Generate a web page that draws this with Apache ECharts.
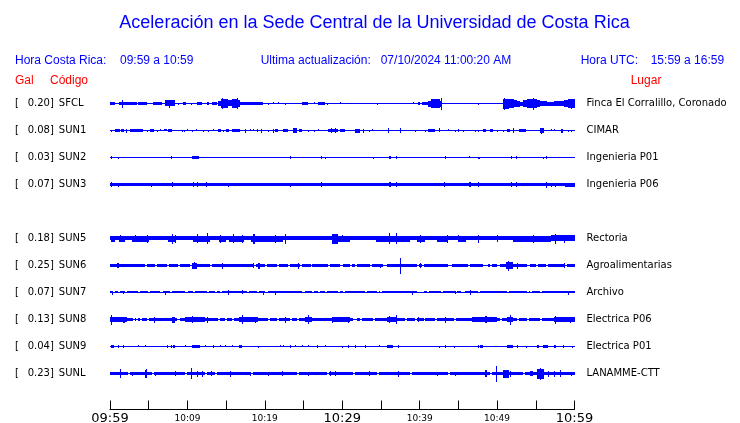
<!DOCTYPE html>
<html><head><meta charset="utf-8">
<script src="https://cdn.jsdelivr.net/npm/echarts@6/dist/echarts.min.js"></script>
<style>html,body{margin:0;padding:0;background:#fff}#c{width:740px;height:423px}</style>
</head><body><div id="c"></div>
<script>
// ---- data ----
const timeTicks = ['09:59','10:09','10:19','10:29','10:39','10:49','10:59']; // every 10 min
const codes = ['SFCL','SUN1','SUN2','SUN3','SUN4','SUN5','SUN6','SUN7','SUN8','SUN9','SUNL'];
const galPeaks = ['0.20','0.08','0.03','0.07',null,'0.18','0.25','0.07','0.13','0.04','0.23'];
const places = ['Finca El Corralillo, Coronado','CIMAR','Ingenieria P01','Ingenieria P06','','Rectoria','Agroalimentarias','Archivo','Electrica P06','Electrica P01','LANAMME-CTT'];
// continuous background level of each trace (relative amplitude)
const traceBase = [0.5,0.5,0.5,1.5,null,2.2,1.3,1.2,1.7,0.5,1.3];
// bursts / spikes: [start minute, end minute, half amplitude]
const sfclBursts = [[0,0.7,1.6],[1.2,3.5,1.6],[1.5,1.6,4],[3.6,4.8,1.4],[5.6,6.7,1.6],[7.1,8.4,3.2],[7.6,7.7,4],[8.8,8.8,1],[9.4,9.8,1.5],[10.5,10.5,1],[11.2,11.9,1.5],[12.5,12.8,1.3],[13.2,13.8,1.5],
 [13.9,14.3,2.7],[14.3,15.2,4.5],[14.5,14.6,5.5],[15.2,15.8,3.2],[15.8,16.5,4.5],[16.4,16.5,5.7],[16.5,16.8,3.3],[16.8,19.7,1.6],[20.4,20.4,1],[21.0,21.0,1.2],[21.7,21.8,1.2],[22.6,22.6,1],[24.8,25.6,1.5],[26.4,26.5,1.2],[26.9,27.8,1.5],[28.0,28.0,1],[29.7,29.8,1.2],
 [34.5,34.5,0.9],[39.2,39.3,1.2],[39.8,40.1,1.4],[40.3,41.1,1.7],[41.1,41.5,3],[41.5,42.6,4.3],[42.7,42.8,6],[42.6,42.9,3],[47.5,47.5,1],
 [50.8,51.5,5],[50.9,51.0,6],[51.5,52.2,4.5],[52.2,52.6,3.5],[52.6,53.0,3],[53.0,53.4,2],[53.4,53.9,3.5],[53.9,55.2,4.5],[54.7,54.8,6],[55.2,55.6,3.5],[55.6,56.5,2.5],[56.5,57.3,2],[57.3,58.6,2.4],[58.6,59.2,3.5],[59.2,60,4.3],[59.5,59.6,5]];
const sun1Bursts = [[0.1,0.1,1],[0.6,1.3,1.3],[1.4,1.8,1.3],[2.1,2.1,2],[2.6,3.6,1.3],[3.6,4.3,1.3],[4.8,4.8,1],[5.2,5.7,1.3],[6.1,6.1,1],[6.5,6.5,1.2],[7.0,7.4,1.2],[7.5,8.0,1.3],[9.3,9.3,1],[9.6,9.6,1],[10.0,10.0,1.2],[10.6,10.6,1],[11.1,11.1,1.2],[12.0,12.0,1],[12.7,12.7,1],[13.3,13.3,1.2],[14.0,14.4,1.3],[14.6,14.6,1],[15.0,15.4,1.3],[15.8,16.6,1.5],[16.7,16.7,1.3],[17.5,17.5,2],[18.1,18.1,1.2],[18.5,18.5,1.2],[19.0,19.1,1.3],[19.5,19.5,1.8],[20.4,20.4,1],[21.1,21.1,1.8],[21.3,21.7,1.3],[22.4,23.0,1.3],[23.7,24.2,2.3],[24.4,24.8,1.3],[25.6,25.6,1],[26.3,26.3,1],[26.9,26.9,1.2],[28.1,29.5,1.7],[28.5,28.6,2.3],[29.0,29.1,2.3],[29.7,30.4,1.3],
 [31.7,32.3,2],[32.7,32.8,2],[33.4,33.4,1],[33.9,34.0,1.2],[35.9,36.0,2.3],[37.5,37.5,2.3],[39.4,39.4,1],[40.7,40.7,1],[41.1,42.0,1.7],[42.5,42.6,2.2],[43.6,43.6,1.2],[44.5,44.5,1],[44.9,45.1,1.3],[45.6,45.6,1],[47.1,47.1,1],[47.5,47.5,1],[48.2,48.6,1.3],[49.1,49.5,1.3],[50.0,50.0,1],[50.7,50.7,1],[51.3,51.7,1.3],[52.0,52.1,2.3],[52.8,53.7,1.7],[55.5,56.1,2.5],[55.7,55.8,3],[56.9,56.9,1.2],[57.3,57.3,1.2],[58.2,58.5,2],[59.1,59.1,1],[59.6,59.6,1]];
const sun2Bursts = [[0.1,0.3,1.5],[1.0,1.0,1],[7.9,8.0,1.5],[10.6,11.5,1.5],[23.2,23.2,1.7],[27.2,27.4,1.5],[27.8,27.8,1],[34.0,34.0,1],[36.1,36.3,1.7],[36.9,36.9,1.5],[43.3,43.3,1.5],[46.4,46.4,1.2],[47.5,47.5,1],[47.7,47.7,1],[51.8,51.9,1.5],[52.5,52.5,1.3],[55.9,55.9,1],[56.3,56.5,1.5]];
const sun3Bursts = [[0.1,0.2,2.5],[1.0,1.0,2],[5.3,5.3,2],[8.0,8.1,2.7],[10.7,10.7,2.3],[11.2,11.2,2.3],[12.4,12.4,2.3],[15.3,15.3,1.8],[23.2,23.2,2],[27.3,27.3,2.3],[36.1,36.3,2.7],[36.9,36.9,2.3],[43.2,43.2,2.3],[46.4,46.6,2.7],[47.5,47.5,2.3],[51.8,51.9,2.3],[52.5,52.6,2.7],[56.3,56.3,3],[56.9,56.9,2],[57.5,57.5,2],[58.8,60,1.8]];
const sun5Bursts = [[0.1,0.6,2.8],[1.2,1.9,2.8],[2.8,5.0,2.8],[7.5,8.5,2.9],[10.7,12.9,2.9],[14.1,15.0,2.9],[15.4,17.3,2.9],[18.2,22.4,3],[29.1,31.0,2.9],[34.4,38.7,3],[39.6,40.7,2.8],[42.3,43.5,2.9],[45.0,46.0,2.8],[52.0,57.0,2.9],[57.0,60,3.2],
 [1.3,1.3,3.5],[3.2,3.2,3.3],[4.8,4.8,4],[8.0,8.0,5],[8.4,8.4,4],[11.2,11.2,4.5],[12.5,12.5,5.5],[14.2,14.2,4],[15.9,15.9,4.5],[17.1,17.1,4],[18.5,18.7,5],[21.3,21.3,4],[22.6,22.6,5],[28.7,29.4,5],[30.0,30.0,3.5],[36.1,36.1,5.5],[36.9,36.9,5.5],[40.1,40.1,4],[43.5,43.5,4],[44.9,44.9,3.5],[47.5,47.5,4],[50.0,50.0,3.5],[54.6,54.6,4],[57.5,57.5,5],[58.7,58.7,4]];
const sun6Bursts = [[0.9,0.9,2.3],[1.0,1.1,2.3],[10.6,11.2,3],[10.9,10.9,3.5],[14.5,14.5,3],[18.5,18.5,2.5],[19.1,19.4,3],[24.3,24.3,3],[34.9,34.9,2],[37.4,37.4,8],[40.1,40.1,2.5],[51.1,52.0,3.5],[51.4,51.5,5],[52.6,52.6,3],[58.7,58.7,2.5]];
const sun6Gaps = [[4.5,4.75],[5.8,6.05],[7.4,7.65],[8.8,9.05],[10.3,10.55],[12.9,13.2],[18.6,18.85],[20.0,20.3],[21.6,21.85],[23.0,23.25],[24.6,24.85],[25.9,26.15],[28.2,28.45],[29.7,30.1],[31.0,31.3],[31.7,31.95],[33.6,33.85],[35.3,35.8],[39.7,39.95],[40.3,40.55],[43.7,44.2],[46.3,46.55],[48.2,48.8],[49.1,49.35],[50.0,50.4],[53.9,54.3],[55.0,55.25],[56.3,56.55],[58.8,59.05]];
const sun7Bursts = [[0.3,0.3,1.8],[1.7,1.7,1.7],[7.1,7.1,1.8],[15.3,15.3,2.5],[17.1,17.1,2.2],[19.7,19.7,2],[21.3,21.3,1.8],[39.0,39.2,1.8],[44.5,44.5,1.7],[46.5,46.5,2.3],[59.1,59.1,2]];
const sun7Gaps = [[0.4,0.65],[1.0,1.25],[1.9,2.15],[3.6,3.85],[4.9,5.15],[6.5,6.9],[7.8,8.05],[9.7,10.1],[10.7,10.95],[12.5,12.75],[13.6,13.85],[14.2,14.45],[17.7,17.95],[19.0,19.25],[20.0,20.4],[24.8,25.2],[26.1,26.35],[26.9,27.15],[27.8,28.05],[29.5,29.75],[30.1,30.35],[33.0,33.25],[34.5,34.75],[34.9,35.15],[39.7,40.5],[41.0,41.25],[42.7,42.95],[44.6,44.85],[45.3,45.9],[47.5,47.75],[51.3,51.55],[53.9,54.15],[54.3,54.55],[55.6,55.85]];
const sun8Bursts = [[0,2.2,2.5],[9.7,12.3,2.5],[16.6,19.1,2.5],[25.2,26.1,2.5],[28.7,31.0,2.5],[35.8,37.1,2.5],[46.8,50.0,2.4],[51.3,52.1,2.6],[57.3,60,2.5],
 [0.1,0.1,5],[1.7,1.9,3],[5.7,5.7,3],[8.0,8.4,3],[10.6,10.7,3.5],[12.5,12.5,3],[17.1,17.1,4.5],[18.7,18.7,3],[22.6,22.6,3],[25.6,25.6,4.5],[28.7,28.7,3],[30.7,30.7,3],[36.1,36.1,3.5],[36.9,36.9,4.5],[39.8,39.8,2.5],[43.3,43.3,3],[48.5,48.7,3.5],[51.7,51.7,5],[57.5,57.5,4],[59.4,59.4,3]];
const sun8Gaps = [[3.0,3.2],[3.4,3.6],[3.9,4.1],[4.8,5.05],[8.7,9.1],[14.0,14.25],[14.9,15.15],[15.8,16.05],[20.4,20.65],[21.6,21.85],[23.3,23.55],[24.2,24.45],[31.4,31.9],[32.3,32.55],[34.0,34.25],[38.1,38.35],[39.4,39.65],[40.5,40.75],[42.0,42.25],[44.4,44.65],[50.4,50.65],[52.6,52.85],[53.9,54.15],[55.6,55.85]];
const sun9Bursts = [[0.1,0.5,1.5],[1.0,1.0,1.3],[1.7,1.7,1.3],[3.6,3.6,1.2],[4.5,4.5,1.2],[7.4,7.5,1.5],[7.9,8.0,1.5],[8.2,8.4,1.5],[9.7,9.7,1.2],[10.6,11.6,1.7],[12.3,12.3,1.2],[13.3,13.3,1.5],[14.2,14.2,1.2],[14.9,14.9,1.2],[15.8,15.8,1.2],[16.7,17.1,1.7],[19.1,19.1,1],[21.9,21.9,1.2],[22.4,22.4,1.2],[23.2,23.2,1.3],[23.9,23.9,1.2],[24.8,24.8,1.2],[25.6,25.6,1.2],[26.8,26.9,1.3],[27.8,27.8,1.2],[30.0,30.0,1],
 [30.8,30.8,1.7],[31.7,31.7,1.3],[33.0,33.0,1.3],[34.7,34.7,1.2],[35.8,36.5,1.5],[37.2,37.2,1.3],[42.5,42.5,1],[43.3,43.3,1.5],[44.4,44.4,1],[47.5,47.5,1.3],[47.8,48.2,1.3],[51.3,52.0,1.5],[52.6,52.6,1.3],[53.7,53.7,1],[55.2,55.4,1.3],[55.9,56.6,1.7],[57.3,57.3,1.3],[57.5,57.5,1.3],[58.5,58.5,1.3],[59.7,59.7,1]];
const sunlBursts = [[0,1.2,1.7],[1.3,1.3,4.5],[2.8,2.8,2],[4.5,4.8,4],[4.7,4.7,4.5],[5.8,5.8,2],[8.4,8.4,2.5],[10.4,10.5,5.5],[11.2,11.2,3],[11.9,11.9,3],[13.1,13.1,2.5],[15.5,15.5,3],[18.1,18.1,2],[20.4,20.4,2],[22.2,22.2,2.5],[25.6,25.6,2],[28.4,28.4,2.5],[29.1,29.1,2.5],
 [33.4,33.4,2.5],[37.2,37.3,3],[42.3,42.3,2],[44.6,44.6,2],[48.5,48.7,3.5],[49.9,49.9,8],[50.8,51.5,4],[51.7,51.7,3],[54.3,54.7,2.5],[55.2,56.0,5],[55.5,55.6,6],[56.6,56.6,3],[57.3,57.3,3],[58.1,58.1,3.5],[59.5,59.5,2]];
const sunlGaps = [[2.3,2.55],[5.4,5.65],[9.7,9.95],[12.3,12.55],[13.6,13.85],[18.1,18.5],[24.2,24.45],[28.0,28.25],[31.4,31.65],[34.5,34.75],[38.8,39.05],[43.7,43.95],[49.1,49.35],[53.4,53.65]];

// ---- assemble ----
const AMP_SCALE = 1 / 27;   // one amplitude unit as a fraction of a trace row
const BLUE = '#0000ff', RED = '#ff0000';
const traces = [
  [0, sfclBursts, []], [1, sun1Bursts, []], [2, sun2Bursts, []], [3, sun3Bursts, []],
  [5, sun5Bursts, []], [6, sun6Bursts, sun6Gaps], [7, sun7Bursts, sun7Gaps],
  [8, sun8Bursts, sun8Gaps], [9, sun9Bursts, []], [10, sunlBursts, sunlGaps]
];
const segData = [];
traces.forEach(([row, bursts, gaps]) => {
  const base = traceBase[row];
  segData.push([0, 60, row, 0.5]);
  if (base > 0.5) {
    let cur = 0;
    gaps.forEach(g => { segData.push([cur, g[0], row, base]); cur = g[1]; });
    segData.push([cur, 60, row, base]);
  }
  bursts.forEach(b => segData.push([b[0], b[1], row, b[2]]));
});

const chart = echarts.init(document.getElementById('c'), null, {renderer: 'canvas'});
const DV = 'DejaVu Sans', LS = 'Liberation Sans';
const txt = (text, x, y, size, color, align) => ({
  type: 'text', x: x, y: y,
  style: { text: text, font: size + 'px "' + LS + '"', fill: color, textAlign: align || 'left', textVerticalAlign: 'middle' }
});
chart.setOption({
  animation: false,
  backgroundColor: '#fff',
  graphic: [
    txt('Aceleración en la Sede Central de la Universidad de Costa Rica', 374.5, 23, 18, BLUE, 'center'),
    txt('Hora Costa Rica:', 15, 61, 12, BLUE),
    txt('09:59 a 10:59', 120, 61, 12, BLUE),
    txt('Ultima actualización:', 260.7, 61, 12, BLUE),
    txt('07/10/2024 11:00:20 AM', 380.7, 61, 12, BLUE),
    txt('Hora UTC:', 580.7, 61, 12, BLUE),
    txt('15:59 a 16:59', 650.7, 61, 12, BLUE),
    txt('Gal', 15, 80.5, 12, RED),
    txt('Código', 50, 80.5, 12, RED),
    txt('Lugar', 630.7, 80.5, 12, RED)
  ],
  grid: { left: 110, right: 165.5, top: 90, bottom: 36, containLabel: false, outerBoundsMode: 'none' },
  xAxis: {
    type: 'value', min: 0, max: 60, interval: 5, offset: 22.5,
    axisLine: { show: true, lineStyle: { color: '#000', width: 1 } },
    axisTick: { show: true, inside: true, length: 9, lineStyle: { color: '#000', width: 1 } },
    splitLine: { show: false },
    axisLabel: {
      margin: 1.5,
      formatter: v => {
        if (v % 10 !== 0) return '';
        const s = timeTicks[v / 10];
        return v % 30 === 0 ? '{big|' + s + '}' : '{small|' + s + '}';
      },
      rich: {
        big: { fontSize: 13, fontFamily: DV, color: '#000', lineHeight: 15 },
        small: { fontSize: 9, fontFamily: DV, color: '#000', lineHeight: 15 }
      }
    }
  },
  yAxis: [{
    type: 'category', data: codes, inverse: true,
    axisLine: { show: false }, axisTick: { show: false }, splitLine: { show: false },
    axisLabel: {
      interval: 0, align: 'left', margin: 95,
      formatter: (v, i) => galPeaks[i] == null ? '' : '{a|[}{v|' + galPeaks[i] + ']}{c|' + v + '}',
      rich: {
        a: { width: 12.7, fontSize: 10, fontFamily: DV, color: '#000' },
        v: { fontSize: 10, fontFamily: DV, color: '#000' },
        c: { fontSize: 10, fontFamily: DV, color: '#000', padding: [0, 0, 0, 5] }
      }
    }
  }, {
    type: 'category', data: codes, inverse: true, position: 'right',
    axisLine: { show: false }, axisTick: { show: false }, splitLine: { show: false },
    axisLabel: {
      interval: 0, align: 'left', margin: 12,
      fontSize: 10, fontFamily: DV, color: '#000',
      formatter: (v, i) => places[i]
    }
  }],
  series: [{
    type: 'custom',
    data: segData,
    encode: { x: [0, 1], y: 2 },
    renderItem: (params, api) => {
      const row = api.value(2);
      const p0 = api.coord([api.value(0), row]);
      const p1 = api.coord([api.value(1), row]);
      const half = api.value(3) * api.size([0, 1])[1] * AMP_SCALE;
      const x = Math.round(p0[0]);
      const w = Math.max(Math.round(p1[0]) - x, 1);
      const y = Math.round(p0[1] - half);
      const h = Math.max(Math.round(2 * half), 1);
      return { type: 'rect', shape: { x: x, y: y, width: w, height: h }, style: { fill: BLUE } };
    }
  }]
});
</script></body></html>
